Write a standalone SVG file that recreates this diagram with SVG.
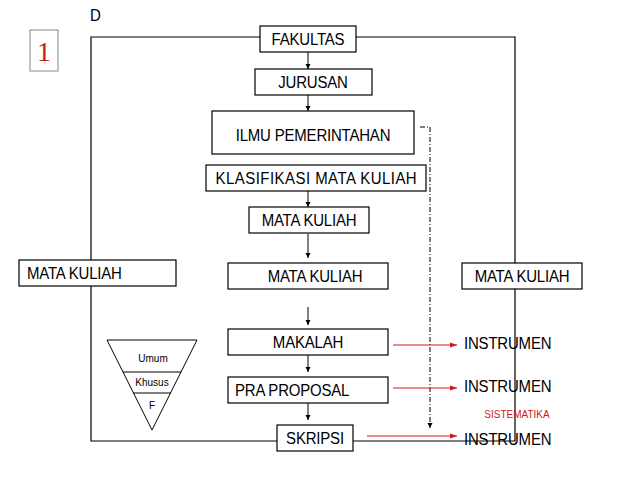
<svg xmlns="http://www.w3.org/2000/svg" width="638" height="479" viewBox="0 0 638 479">
<style>
.box{fill:#fff;stroke:#000;stroke-width:1.2}
.t{font-family:"Liberation Sans",Arial,sans-serif;font-size:15px;fill:#000;letter-spacing:-0.2px}
.s{font-family:"Liberation Sans",Arial,sans-serif;font-size:10px;fill:#000}
.ln{fill:none;stroke:#000;stroke-width:1.2}
.ar{fill:none;stroke:#000;stroke-width:1;marker-end:url(#ab)}
.rd{fill:none;stroke:#d01818;stroke-width:1;marker-end:url(#ar)}
</style>
<defs>
<marker id="ab" markerWidth="6" markerHeight="6" refX="5" refY="3" orient="auto" markerUnits="userSpaceOnUse"><path d="M0,0.5 L5,3 L0,5.5 z" fill="#000"/></marker>
<marker id="ar" markerWidth="8" markerHeight="6" refX="7" refY="3" orient="auto" markerUnits="userSpaceOnUse"><path d="M0,0.5 L7,3 L0,5.5 z" fill="#d01818"/></marker>
</defs>
<rect width="638" height="479" fill="#fff"/>
<g id="connectors">
<polyline class="ln" points="260,37 91,37 91,260"/>
<polyline class="ln" points="91,286 91,441 277,441"/>
<polyline class="ln" points="356,37 515,37 515,263"/>
<polyline class="ln" points="515,289 515,441 353,441"/>
<line class="ar" x1="308" y1="52" x2="308" y2="69"/>
<line class="ar" x1="308" y1="95" x2="308" y2="111"/>
<line class="ar" x1="308" y1="191" x2="308" y2="207"/>
<line class="ar" x1="308" y1="234" x2="308" y2="258"/>
<line class="ar" x1="308" y1="307" x2="308" y2="325"/>
<line class="ar" x1="308" y1="355" x2="308" y2="372"/>
<line class="ar" x1="308" y1="403" x2="308" y2="420"/>
<polyline points="420,127 430,127 430,428" fill="none" stroke="#000" stroke-width="1" stroke-dasharray="5,2,1,2" marker-end="url(#ab)"/>
<line class="rd" x1="393" y1="345" x2="457" y2="345"/>
<line class="rd" x1="393" y1="388" x2="457" y2="388"/>
<line class="rd" x1="367" y1="436" x2="457" y2="436"/>
</g>
<g id="num"><rect x="30" y="30" width="28" height="41" fill="#fff" stroke="#888" stroke-width="1"/><text x="44" y="61" text-anchor="middle" font-family="Liberation Serif,serif" font-size="28" fill="#d01818">1</text></g>
<g id="d"><text class="t" transform="matrix(1,0,0,1.15,90,21)" font-size="14">D</text></g>
<g id="fakultas"><rect class="box" x="260" y="26" width="96" height="26"/><text class="t" transform="matrix(1,0,0,1.15,308,45)" text-anchor="middle">FAKULTAS</text></g>
<g id="jurusan"><rect class="box" x="255" y="69" width="117" height="26"/><text class="t" transform="matrix(1,0,0,1.15,313,88)" text-anchor="middle">JURUSAN</text></g>
<g id="ilmu"><rect class="box" x="212" y="111" width="202" height="43"/><text class="t" transform="matrix(1,0,0,1.15,313,141)" text-anchor="middle">ILMU PEMERINTAHAN</text></g>
<g id="klasifikasi"><rect class="box" x="206" y="165" width="220" height="26"/><text class="t" transform="matrix(1,0,0,1.15,316,184)" text-anchor="middle" textLength="201">KLASIFIKASI MATA KULIAH</text></g>
<g id="mk1"><rect class="box" x="249" y="207" width="120" height="26"/><text class="t" transform="matrix(1,0,0,1.15,309,226)" text-anchor="middle">MATA KULIAH</text></g>
<g id="mk2"><rect class="box" x="228" y="263" width="160" height="26"/><text class="t" transform="matrix(1,0,0,1.15,315,282)" text-anchor="middle">MATA KULIAH</text></g>
<g id="mkl"><rect class="box" x="19" y="260" width="157" height="26"/><text class="t" transform="matrix(1,0,0,1.15,27,279)">MATA KULIAH</text></g>
<g id="mkr"><rect class="box" x="462" y="263" width="120" height="26"/><text class="t" transform="matrix(1,0,0,1.15,522,282)" text-anchor="middle">MATA KULIAH</text></g>
<g id="makalah"><rect class="box" x="228" y="329" width="160" height="26"/><text class="t" transform="matrix(1,0,0,1.15,308,348)" text-anchor="middle">MAKALAH</text></g>
<g id="praproposal"><rect class="box" x="228" y="377" width="160" height="26"/><text class="t" transform="matrix(1,0,0,1.15,235,396)">PRA PROPOSAL</text></g>
<g id="skripsi"><rect class="box" x="277" y="425" width="76" height="26"/><text class="t" transform="matrix(1,0,0,1.15,315,444)" text-anchor="middle">SKRIPSI</text></g>
<g id="instrumen1"><text class="t" transform="matrix(1,0,0,1.15,464,349)">INSTRUMEN</text></g>
<g id="instrumen2"><text class="t" transform="matrix(1,0,0,1.15,464,392)">INSTRUMEN</text></g>
<g id="instrumen3"><text class="t" transform="matrix(1,0,0,1.15,464,445)">INSTRUMEN</text></g>
<g id="sistematika"><text x="517" y="418" text-anchor="middle" font-family="Liberation Sans,Arial,sans-serif" font-size="10" fill="#d01818">SISTEMATIKA</text></g>
<g id="triangle">
<polygon points="107,340 197,340 152,430" fill="#fff" stroke="#000" stroke-width="1"/>
<line x1="123" y1="372" x2="181" y2="372" stroke="#000" stroke-width="1"/>
<line x1="133" y1="393" x2="171" y2="393" stroke="#000" stroke-width="1"/>
<text class="s" x="153" y="362" text-anchor="middle">Umum</text>
<text class="s" x="152" y="386" text-anchor="middle">Khusus</text>
<text class="s" x="152" y="409" text-anchor="middle" font-size="8">F</text>
</g>
</svg>
